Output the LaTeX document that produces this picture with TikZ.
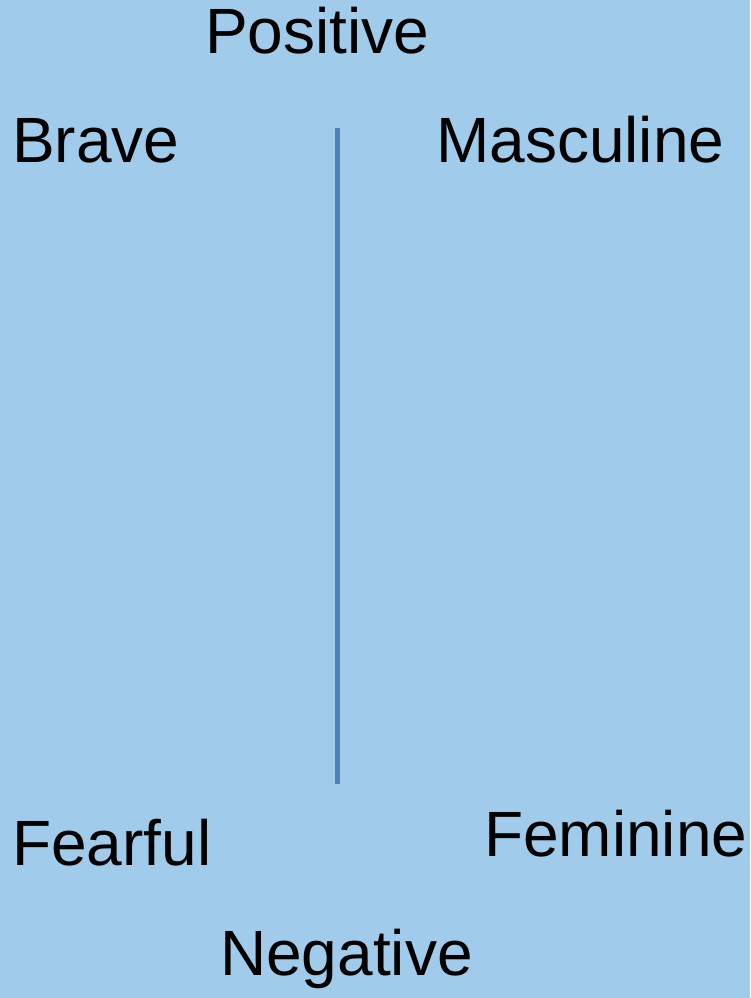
\documentclass[tikz,border=0pt]{standalone}
\usepackage{fontspec}
\setmainfont{Liberation Sans}
\usetikzlibrary{positioning}
\definecolor{skyback}{RGB}{161,203,235}
\definecolor{axisblue}{RGB}{79,129,189}
\tikzset{word/.style={anchor=base west,inner sep=0pt,font=\fontsize{64}{72}\selectfont}}

\begin{document}
\begin{tikzpicture}[x=1pt,y=-1pt]
\fill[skyback] (0,0) rectangle (750,998);
\useasboundingbox (0,0) rectangle (750,998);
\coordinate (top) at (337,128);
\coordinate (bot) at (337,784);
\draw[axisblue,line width=5pt] (top)--(bot);
\node[word] (pos) at (205,54) {Positive};
\node[word] (brave) at (12,162) {Brave};
\node[word] (masc) at (436,162) {Masculine};
\node[word] (fear) at (12,865) {Fearful};
\node[word] (fem) at (484,856) {Feminine};
\node[word] (neg) at (220,975) {Negative};
\end{tikzpicture}
\end{document}
